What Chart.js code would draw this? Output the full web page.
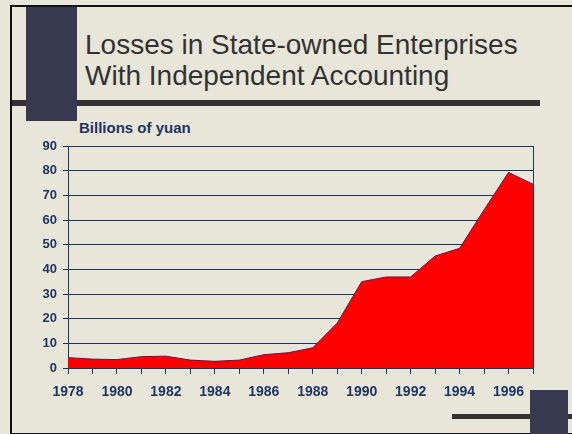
<!DOCTYPE html>
<html>
<head>
<meta charset="utf-8">
<script src="https://cdn.jsdelivr.net/npm/chart.js@4.4.1/dist/chart.umd.min.js"></script>
<style>
  html, body { margin: 0; padding: 0; }
  body { width: 572px; height: 434px; overflow: hidden; position: relative; background: #e8e6d9; font-family: "Liberation Sans", Arial, sans-serif; }
  #frame { position: absolute; left: 10px; top: 5px; width: 600px; height: 426px; border: 2px solid #111; }
  .sq { position: absolute; background: #373a4e; }
  .bar { position: absolute; background: #333; }
  #title { position: absolute; left: 85px; top: 29px; font-size: 28px; line-height: 31px; color: #333; white-space: nowrap; }
  #unit { position: absolute; left: 79px; top: 119px; font-size: 15px; font-weight: bold; color: #1f3563; }
  #c { position: absolute; left: 0; top: 0; }
</style>
</head>
<body>
<div id="frame"></div>
<div class="bar" style="left:12px;top:100px;width:528px;height:6px"></div>
<div class="sq" style="left:26px;top:7px;width:51px;height:114px"></div>
<div class="bar" style="left:452px;top:414px;width:120px;height:5px"></div>
<div class="sq" style="left:530px;top:390px;width:38px;height:44px"></div>
<div id="title">Losses in State-owned Enterprises<br>With Independent Accounting</div>
<div id="unit">Billions of yuan</div>
<canvas id="c" width="572" height="434"></canvas>
<script>
// years on the x axis
const years = ["1978","1979","1980","1981","1982","1983","1984","1985","1986","1987",
               "1988","1989","1990","1991","1992","1993","1994","1995","1996","1997"];
// losses, billions of yuan
const losses = [4.2, 3.6, 3.4, 4.6, 4.8, 3.2, 2.7, 3.2, 5.4, 6.2,
                8.2, 18.2, 35.0, 36.9, 36.9, 45.4, 48.5, 64.1, 79.3, 74.5];
const yTicks = [0, 10, 20, 30, 40, 50, 60, 70, 80, 90];

const navy = "#1f3563";

new Chart(document.getElementById("c"), {
    type: "line",
    data: {
        labels: years,
        datasets: [{
            data: losses,
            fill: "origin",
            backgroundColor: "#ff0000",
            borderColor: navy,
            borderWidth: 1,
            pointRadius: 0,
            tension: 0
        }]
    },
    options: {
        responsive: false,
        animation: false,
        layout: { padding: { left: 0, top: 146, right: 39, bottom: 0 } },
        plugins: { legend: { display: false }, tooltip: { enabled: false } },
        scales: {
            x: {
                type: "category",
                offset: false,
                grid: {
                    drawOnChartArea: true,
                    color: ctx => ctx.index === years.length - 1 ? navy : "transparent",
                    tickColor: navy,
                    tickLength: 6
                },
                border: { display: true, color: navy, width: 1 },
                ticks: {
                    autoSkip: false,
                    maxRotation: 0,
                    padding: 10,
                    color: navy,
                    font: { family: "Liberation Sans, Arial", size: 14, weight: "bold" },
                    callback: function (v, i) { return i % 2 === 0 ? years[i] : ""; }
                },
                afterFit: s => { s.height = 66; }
            },
            y: {
                min: yTicks[0],
                max: yTicks[yTicks.length - 1],
                grid: { color: navy, tickColor: navy, tickLength: 5 },
                border: { display: true, color: navy, width: 1 },
                ticks: {
                    stepSize: 10,
                    padding: 6,
                    color: navy,
                    font: { family: "Liberation Sans, Arial", size: 13, weight: "bold" }
                },
                afterFit: s => { s.width = 68; }
            }
        }
    }
});
</script>
</body>
</html>
